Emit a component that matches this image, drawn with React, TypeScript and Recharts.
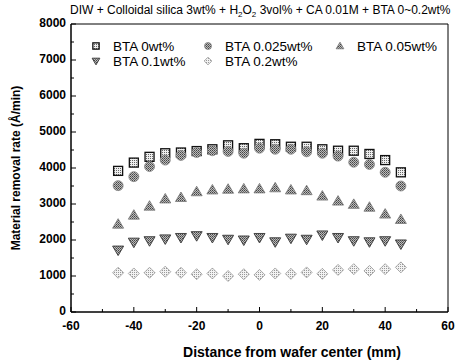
import React from 'react';
import { ScatterChart, Scatter, XAxis, YAxis, ReferenceArea } from 'recharts';

// wafer positions (mm)
const positions = [-45, -40, -35, -30, -25, -20, -15, -10, -5, 0, 5, 10, 15, 20, 25, 30, 35, 40, 45];

// removal rate (Å/min) per BTA concentration
const bta0 = [3920, 4150, 4310, 4410, 4430, 4470, 4520, 4630, 4550, 4670, 4660, 4590, 4590, 4520, 4480, 4480, 4390, 4220, 3880];
const bta0025 = [3510, 3760, 4040, 4220, 4350, 4430, 4480, 4460, 4410, 4550, 4520, 4520, 4450, 4410, 4330, 4160, 4100, 3880, 3500];
const bta005 = [2440, 2690, 2940, 3140, 3180, 3340, 3390, 3410, 3420, 3420, 3450, 3390, 3370, 3220, 3080, 2990, 2910, 2720, 2570];
const bta01 = [1720, 1940, 1980, 2030, 2070, 2120, 2070, 2020, 2000, 2070, 1950, 2050, 2020, 2140, 2070, 1980, 1950, 1980, 1890];
const bta02 = [1090, 1070, 1090, 1120, 1090, 1050, 1070, 1000, 1050, 1030, 1070, 1060, 1100, 1060, 1170, 1190, 1140, 1190, 1240];

const xTicks = [-60, -50, -40, -30, -20, -10, 0, 10, 20, 30, 40, 50, 60];
const yTicks = [0, 500, 1000, 1500, 2000, 2500, 3000, 3500, 4000, 4500, 5000, 5500, 6000, 6500, 7000, 7500, 8000];

const toPoints = (vals: number[]) => positions.map((x, i) => ({ x, y: vals[i] }));

const FONT = 'Arial, "Liberation Sans", sans-serif';

const Square = ({ cx, cy, s = 1 }: any) => (
  <rect x={cx - 4.5 * s} y={cy - 4.5 * s} width={9 * s} height={9 * s} fill="url(#chkLight)" stroke="#111" strokeWidth={1.3} />
);
const Circle = ({ cx, cy, s = 1 }: any) => (
  <circle cx={cx} cy={cy} r={5 * s} fill="url(#chkDark)" stroke="#888" strokeWidth={0.8} />
);
const Tri = ({ cx, cy, s = 1 }: any) => (
  <path d={`M${cx},${cy - 5.5 * s} L${cx + 5.5 * s},${cy + 4 * s} L${cx - 5.5 * s},${cy + 4 * s} Z`} fill="url(#chkDark)" stroke="#777" strokeWidth={0.8} />
);
const TriDown = ({ cx, cy, s = 1 }: any) => (
  <path d={`M${cx - 5.5 * s},${cy - 4 * s} L${cx + 5.5 * s},${cy - 4 * s} L${cx},${cy + 5.5 * s} Z`} fill="url(#chkDark)" stroke="#444" strokeWidth={1} />
);
const Diamond = ({ cx, cy, s = 1 }: any) => (
  <path d={`M${cx},${cy - 5.5 * s} L${cx + 5.5 * s},${cy} L${cx},${cy + 5.5 * s} L${cx - 5.5 * s},${cy} Z`} fill="url(#chkPale)" stroke="#999" strokeWidth={0.8} />
);

const XTick = (props: any) => {
  const { x, y, payload } = props;
  const v = payload.value;
  const major = v % 20 === 0;
  return (
    <g>
      <line x1={x} x2={x} y1={y} y2={y - (major ? 5 : 3)} stroke="#000" />
      {major && (
        <text x={x} y={y + 18} textAnchor="middle" fontSize={12} fontWeight="bold" fontFamily={FONT} fill="#000">
          {v}
        </text>
      )}
    </g>
  );
};

const YTick = (props: any) => {
  const { x, y, payload } = props;
  const v = payload.value;
  const major = v % 1000 === 0;
  return (
    <g>
      <line x1={x} x2={x + (major ? 5 : 3)} y1={y} y2={y} stroke="#000" />
      {major && (
        <text x={x - 5} y={y + 3} textAnchor="end" fontSize={12} fontWeight="bold" fontFamily={FONT} fill="#000">
          {v}
        </text>
      )}
    </g>
  );
};

const legendItems = [
  { label: 'BTA 0wt%', Shape: Square, x: 96, y: 46 },
  { label: 'BTA 0.025wt%', Shape: Circle, x: 208, y: 46 },
  { label: 'BTA 0.05wt%', Shape: Tri, x: 340, y: 46 },
  { label: 'BTA 0.1wt%', Shape: TriDown, x: 96, y: 61 },
  { label: 'BTA 0.2wt%', Shape: Diamond, x: 208, y: 61 },
];

export default function App() {
  return (
    <div style={{ position: 'absolute', left: 0, top: 0, width: 457, height: 360, background: '#fff', fontFamily: FONT }}>
      <svg width={0} height={0} style={{ position: 'absolute' }}>
        <defs>
          <pattern id="chkLight" width={2} height={2} patternUnits="userSpaceOnUse">
            <rect width={2} height={2} fill="#eee" />
            <rect width={1} height={1} fill="#666" />
          </pattern>
          <pattern id="chkDark" width={2} height={2} patternUnits="userSpaceOnUse">
            <rect width={2} height={2} fill="#bbb" />
            <rect width={1} height={1} fill="#444" />
            <rect x={1} y={1} width={1} height={1} fill="#666" />
          </pattern>
          <pattern id="chkPale" width={2} height={2} patternUnits="userSpaceOnUse">
            <rect width={2} height={2} fill="#f2f2f2" />
            <rect width={1} height={1} fill="#999" />
          </pattern>
        </defs>
      </svg>
      <div style={{ position: 'absolute', left: 70, top: 3, fontSize: 12, whiteSpace: 'nowrap', color: '#000' }}>
        DIW + Colloidal silica 3wt% + H<sub style={{ fontSize: 8 }}>2</sub>O<sub style={{ fontSize: 8 }}>2</sub> 3vol% + CA 0.01M + BTA 0~0.2wt%
      </div>
      <ScatterChart width={457} height={360} margin={{ top: 24, right: 9, left: 0, bottom: 0 }}>
        <XAxis
          type="number"
          dataKey="x"
          domain={[-60, 60]}
          ticks={xTicks}
          interval={0}
          height={48}
          tickSize={0}
          tickMargin={0}
          tickLine={false}
          axisLine={{ stroke: '#000' }}
          tick={<XTick />}
          allowDataOverflow
        />
        <YAxis
          type="number"
          dataKey="y"
          domain={[0, 8000]}
          ticks={yTicks}
          interval={0}
          width={71}
          tickSize={0}
          tickMargin={0}
          tickLine={false}
          axisLine={{ stroke: '#000' }}
          tick={<YTick />}
          allowDataOverflow
        />
        <ReferenceArea x1={-60} x2={60} y1={0} y2={8000} fill="none" stroke="#000" strokeWidth={1} fillOpacity={0} />
        <Scatter name="BTA 0wt%" data={toPoints(bta0)} shape={(p: any) => <Square cx={p.cx} cy={p.cy} />} isAnimationActive={false} />
        <Scatter name="BTA 0.025wt%" data={toPoints(bta0025)} shape={(p: any) => <Circle cx={p.cx} cy={p.cy} />} isAnimationActive={false} />
        <Scatter name="BTA 0.05wt%" data={toPoints(bta005)} shape={(p: any) => <Tri cx={p.cx} cy={p.cy} />} isAnimationActive={false} />
        <Scatter name="BTA 0.1wt%" data={toPoints(bta01)} shape={(p: any) => <TriDown cx={p.cx} cy={p.cy} />} isAnimationActive={false} />
        <Scatter name="BTA 0.2wt%" data={toPoints(bta02)} shape={(p: any) => <Diamond cx={p.cx} cy={p.cy} />} isAnimationActive={false} />
      </ScatterChart>
      <svg width={457} height={80} style={{ position: 'absolute', left: 0, top: 0, pointerEvents: 'none' }}>
        {legendItems.map(({ label, Shape, x, y }) => (
          <g key={label}>
            <Shape cx={x} cy={y} s={0.7} />
            <text x={x + 17} y={y + 5} fontSize={13.5} fontFamily={FONT} fill="#000">
              {label}
            </text>
          </g>
        ))}
      </svg>
      <div
        style={{
          position: 'absolute',
          left: 16,
          top: 168,
          transform: 'translate(-50%, -50%) rotate(-90deg)',
          fontSize: 12,
          fontWeight: 'bold',
          whiteSpace: 'nowrap',
          color: '#000',
        }}
      >
        Material removal rate (Å/min)
      </div>
      <div
        style={{
          position: 'absolute',
          left: 292,
          top: 352,
          transform: 'translate(-50%, -50%)',
          fontSize: 14,
          fontWeight: 'bold',
          whiteSpace: 'nowrap',
          color: '#000',
        }}
      >
        Distance from wafer center (mm)
      </div>
    </div>
  );
}
